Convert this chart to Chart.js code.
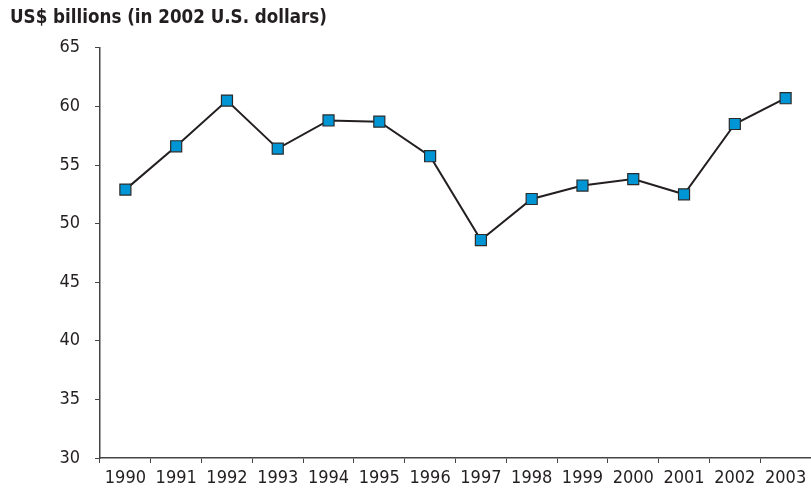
<!DOCTYPE html>
<html>
<head>
<meta charset="utf-8">
<script src="https://cdn.jsdelivr.net/npm/chart.js@4/dist/chart.umd.min.js"></script>
<style>
html,body{margin:0;padding:0;background:#fff;}
#wrap{width:811px;height:490px;position:relative;}
</style>
</head>
<body>
<div id="wrap"><canvas id="c" width="811" height="490"></canvas></div>
<script>
const categories = ["1990","1991","1992","1993","1994","1995","1996","1997","1998","1999","2000","2001","2002","2003"];
const values = [52.9, 56.6, 60.5, 56.4, 58.8, 58.7, 55.75, 48.6, 52.1, 53.25, 53.8, 52.5, 58.5, 60.7];
const yTicks = [30, 35, 40, 45, 50, 55, 60, 65];
const titleText = "US$ billions (in 2002 U.S. dollars)";

const FONT = "'DejaVu Sans Condensed', 'Liberation Sans Narrow', sans-serif";

new Chart(document.getElementById('c'), {
  type: 'line',
  data: {
    labels: categories,
    datasets: [{
      data: values,
      borderColor: '#231f20',
      borderWidth: 2,
      pointStyle: 'rect',
      pointRadius: 7.8,
      pointBackgroundColor: '#0096d6',
      pointBorderColor: '#2b2b2b',
      pointBorderWidth: 1.2,
      tension: 0,
      fill: false,
      clip: false
    }]
  },
  options: {
    responsive: false,
    animation: false,
    layout: { autoPadding: false, padding: { left: 10, right: 0, top: 0, bottom: 0 } },
    plugins: {
      legend: { display: false },
      tooltip: { enabled: false },
      title: {
        display: true,
        text: titleText,
        align: 'start',
        color: '#231f20',
        font: { family: FONT, size: 18.6, weight: 'bold' },
        padding: { top: 7, bottom: 18.5 }
      }
    },
    scales: {
      x: {
        type: 'category',
        offset: true,
        afterFit: (scale) => { scale.paddingRight = 0; scale.paddingLeft = 0; scale.height = 32; },
        grid: {
          offset: true,
          drawOnChartArea: false,
          drawTicks: true,
          tickLength: 5,
          color: '#444',
          lineWidth: 1
        },
        border: { display: true, color: '#444', width: 1.5 },
        ticks: {
          color: '#231f20',
          font: { family: FONT, size: 18 },
          padding: 5,
          maxRotation: 0,
          autoSkip: false
        }
      },
      y: {
        min: 30,
        max: 65,
        afterBuildTicks: (scale) => { scale.ticks = yTicks.map(v => ({ value: v })); },
        afterFit: (scale) => { scale.width = 90; },
        grid: {
          drawOnChartArea: false,
          drawTicks: true,
          tickLength: 5,
          color: '#444',
          lineWidth: 1
        },
        border: { display: true, color: '#444', width: 1.5 },
        ticks: {
          color: '#231f20',
          font: { family: FONT, size: 18 },
          padding: 15
        }
      }
    }
  }
});
</script>
</body>
</html>
